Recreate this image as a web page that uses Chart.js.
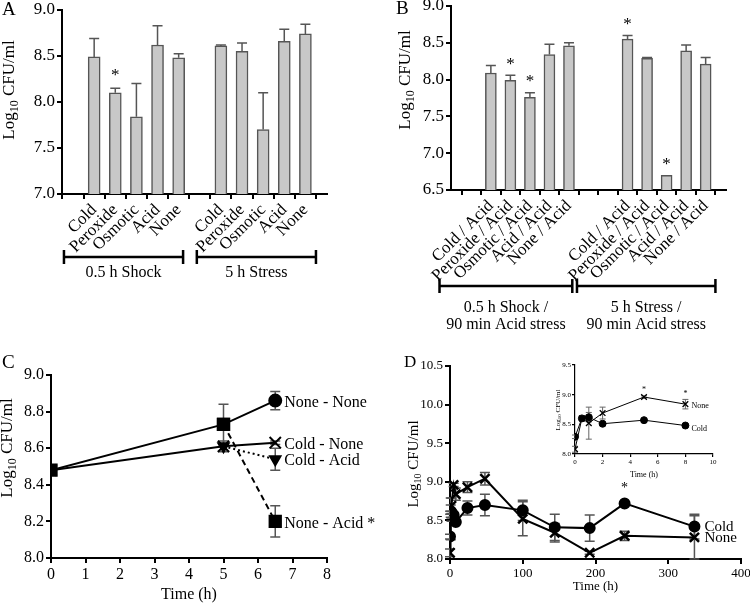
<!DOCTYPE html>
<html>
<head>
<meta charset="utf-8">
<script src="https://cdn.jsdelivr.net/npm/chart.js@4.4.0/dist/chart.umd.min.js"></script>
<style>
body { margin: 0; background: #fff; }
#wrap { position: relative; width: 750px; height: 604px; overflow: hidden; background: #fff; }
canvas { position: absolute; }
</style>
</head>
<body>
<div id="wrap">
<canvas id="cA" width="340" height="300" style="left:0;top:0"></canvas>
<canvas id="cB" width="375" height="335" style="left:375px;top:0"></canvas>
<canvas id="cC" width="375" height="264" style="left:0;top:340px"></canvas>
<canvas id="cD" width="375" height="264" style="left:375px;top:340px"></canvas>
<canvas id="cI" width="200" height="130" style="left:530px;top:350px"></canvas>
</div>
<script>
// panel A - 0.5 h shock / 5 h stress
var labelsA = ['', 'Cold', 'Peroxide', 'Osmotic', 'Acid', 'None', '', 'Cold', 'Peroxide', 'Osmotic', 'Acid', 'None'];
var valuesA = [null, 8.49, 8.10, 7.84, 8.62, 8.48, null, 8.61, 8.55, 7.70, 8.66, 8.74];
var errA = [0, 0.20, 0.05, 0.36, 0.21, 0.045, 0, 0.01, 0.09, 0.40, 0.13, 0.105];
var starsA = [2];
var groupsA = ['0.5 h Shock', '5 h Stress'];

// panel B - followed by 90 min acid stress
var labelsB = ['', 'Cold / Acid', 'Peroxide / Acid', 'Osmotic / Acid', 'Acid / Acid', 'None / Acid', '', '',
  'Cold / Acid', 'Peroxide / Acid', 'Osmotic / Acid', 'Acid / Acid', 'None / Acid'];
var valuesB = [null, 8.09, 7.99, 7.76, 8.34, 8.46, null, null, 8.55, 8.29, 6.70, 8.39, 8.21];
var errB = [0, 0.10, 0.07, 0.06, 0.14, 0.04, 0, 0, 0.05, 0.01, 0, 0.08, 0.09];
var starsB = [2, 3, 8, 10];
var groupsB = [['0.5 h Shock /', '90 min Acid stress'], ['5 h Stress /', '90 min Acid stress']];

// panel C - time course (h)
var noneNoneT = [0, 5, 6.5], noneNoneV = [8.48, 8.73, 8.86], noneNoneE = [0, 0.11, 0.05];
var noneAcidT = [5, 6.5], noneAcidV = [8.73, 8.20], noneAcidE = [0, 0.085];
var coldNoneT = [0, 5, 6.5], coldNoneV = [8.48, 8.61, 8.63], coldNoneE = [0, 0.03, 0.01];
var coldAcidT = [5, 6.5], coldAcidV = [8.61, 8.54], coldAcidE = [0, 0.06];

// panel D - long storage (h)
var timeD = [0, 0.5, 1, 2, 5, 8, 24, 48, 100, 144, 192, 240, 336];
var coldD = [8.29, 8.60, 8.62, 8.51, 8.57, 8.48, 8.66, 8.70, 8.63, 8.41, 8.40, 8.72, 8.42];
var coldErrD = [0.03, 0.02, 0.08, 0.02, 0.02, 0.02, 0.09, 0.14, 0.13, 0.17, 0.17, 0.02, 0.16];
var noneD = [8.08, 8.60, 8.52, 8.69, 8.96, 8.84, 8.93, 9.04, 8.52, 8.34, 8.08, 8.30, 8.28];
var noneErrD = [0.05, 0.02, 0.27, 0.10, 0.02, 0.08, 0.07, 0.08, 0.22, 0.12, 0.02, 0.06, 0.28];
var starTimesD = [240];
var starTimesInset = [5, 8];
var insetCount = 6; // first 8 h

var FAM = "'Liberation Serif', 'Times New Roman', serif";
Chart.defaults.font.family = FAM;
Chart.defaults.color = '#000';
Chart.defaults.animation = false;

function pts(xs, ys) {
  return xs.map(function(x, i) { return { x: x, y: ys[i] }; });
}

function fixY(w) {
  return function(s) { s.width = w; s.paddingTop = 0; s.paddingBottom = 0; };
}
function fixX(h) {
  return function(s) { s.height = h; s.paddingLeft = 0; s.paddingRight = 0; };
}

function axisStyle(size, tickLen, bw) {
  return {
    grid: { drawOnChartArea: false, drawTicks: true, tickLength: tickLen, color: '#000', lineWidth: bw },
    border: { display: true, color: '#000', width: bw }
  };
}

function yTitle(ctx, x, y, size) {
  ctx.save();
  ctx.translate(x, y);
  ctx.rotate(-Math.PI / 2);
  ctx.fillStyle = '#000';
  ctx.textBaseline = 'middle';
  ctx.textAlign = 'left';
  var big = size + 'px ' + FAM;
  var small = Math.round(size * 0.68) + 'px ' + FAM;
  ctx.font = big;
  var w1 = ctx.measureText('Log').width;
  var w3 = ctx.measureText(' CFU/ml').width;
  ctx.font = small;
  var w2 = ctx.measureText('10').width;
  var x0 = -(w1 + w2 + w3) / 2;
  ctx.font = big;
  ctx.fillText('Log', x0, 0);
  ctx.font = small;
  ctx.fillText('10', x0 + w1, size * 0.28);
  ctx.font = big;
  ctx.fillText(' CFU/ml', x0 + w1 + w2, 0);
  ctx.restore();
}

function text(ctx, s, x, y, size, align) {
  ctx.save();
  ctx.fillStyle = '#000';
  ctx.font = size + 'px ' + FAM;
  ctx.textAlign = align || 'left';
  ctx.textBaseline = 'middle';
  ctx.fillText(s, x, y);
  ctx.restore();
}

// error bars, drawn under the marks
var errorBars = {
  id: 'errorBars',
  beforeDatasetsDraw: function(chart) {
    var ctx = chart.ctx, ys = chart.scales.y;
    chart.data.datasets.forEach(function(ds, i) {
      if (!ds.errs) return;
      var meta = chart.getDatasetMeta(i);
      ctx.save();
      ctx.strokeStyle = ds.errColor || '#555';
      ctx.lineWidth = ds.errWidth || 1.5;
      meta.data.forEach(function(el, j) {
        var e = ds.errs[j], v = ds.data[j];
        var val = (v && typeof v === 'object') ? v.y : v;
        if (!e || val == null) return;
        var x = el.x;
        var yv = ys.getPixelForValue(val);
        var yt = ys.getPixelForValue(val + e);
        var yb = ds.errUp ? yv : ys.getPixelForValue(val - e);
        var c = ds.errCap || 5;
        ctx.beginPath();
        ctx.moveTo(x, yb); ctx.lineTo(x, yt);
        ctx.moveTo(x - c, yt); ctx.lineTo(x + c, yt);
        if (!ds.errUp) { ctx.moveTo(x - c, yb); ctx.lineTo(x + c, yb); }
        ctx.stroke();
      });
      ctx.restore();
    });
  }
};
Chart.register(errorBars);

function barXAxis(labels, min, max, h, size) {
  var a = axisStyle(size, 5, 2);
  return Object.assign(a, {
    type: 'linear', min: min, max: max,
    afterBuildTicks: function(s) { s.ticks = labels.map(function(_, i) { return { value: i }; }); },
    afterFit: fixX(h),
    ticks: {
      autoSkip: false, maxRotation: 45, minRotation: 45, padding: 1,
      font: { size: size },
      callback: function(v, i) { return labels[i]; }
    }
  });
}

function bracket(ctx, x1, x2, y) {
  ctx.save();
  ctx.strokeStyle = '#000';
  ctx.lineWidth = 2.5;
  ctx.beginPath();
  ctx.moveTo(x1, y); ctx.lineTo(x2, y);
  ctx.moveTo(x1, y - 7); ctx.lineTo(x1, y + 7);
  ctx.moveTo(x2, y - 7); ctx.lineTo(x2, y + 7);
  ctx.stroke();
  ctx.restore();
}

// ---------- A ----------
new Chart(document.getElementById('cA'), {
  type: 'bar',
  data: {
    datasets: [{
      data: pts(labelsA.map(function(_, i) { return i; }), valuesA),
      errs: errA, errUp: true, errCap: 5,
      backgroundColor: '#c8c8c8', borderColor: '#555', borderWidth: 1.5,
      barThickness: 12
    }]
  },
  options: {
    responsive: false,
    layout: { padding: { left: 0, top: 10, right: 13, bottom: 0 } },
    plugins: { legend: { display: false }, tooltip: { enabled: false } },
    scales: {
      x: barXAxis(labelsA, 0, 11.5, 106, 17),
      y: Object.assign(axisStyle(17, 5, 2), {
        min: 7, max: 9, afterFit: fixY(62),
        ticks: { stepSize: 0.5, font: { size: 17 }, padding: 2, callback: function(v) { return v.toFixed(1); } }
      })
    }
  },
  plugins: [{
    id: 'decorA',
    afterDraw: function(chart) {
      var ctx = chart.ctx, xs = chart.scales.x, ys = chart.scales.y;
      text(ctx, 'A', 2, 10, 19);
      yTitle(ctx, 10, 90, 17);
      starsA.forEach(function(i) {
        text(ctx, '*', xs.getPixelForValue(i), ys.getPixelForValue(valuesA[i] + errA[i]) - 13, 17, 'center');
      });
      var spans = [[-0.43, 5.21], [5.86, 11.5]];
      spans.forEach(function(sp, g) {
        var x1 = xs.getPixelForValue(sp[0]), x2 = xs.getPixelForValue(sp[1]);
        bracket(ctx, x1, x2, 257);
        text(ctx, groupsA[g], (x1 + x2) / 2, 273, 16, 'center');
      });
    }
  }]
});

// ---------- B ----------
new Chart(document.getElementById('cB'), {
  type: 'bar',
  data: {
    datasets: [{
      data: pts(labelsB.map(function(_, i) { return i; }), valuesB),
      errs: errB, errUp: true, errCap: 5,
      backgroundColor: '#c8c8c8', borderColor: '#555', borderWidth: 1.5,
      barThickness: 11
    }]
  },
  options: {
    responsive: false,
    layout: { padding: { left: 0, top: 6, right: 24, bottom: 0 } },
    plugins: { legend: { display: false }, tooltip: { enabled: false } },
    scales: {
      x: barXAxis(labelsB, -0.5, 12.5, 145, 17),
      y: Object.assign(axisStyle(17, 5, 2), {
        min: 6.5, max: 9, afterFit: fixY(76),
        ticks: { stepSize: 0.5, font: { size: 17 }, padding: 2, callback: function(v) { return v.toFixed(1); } }
      })
    }
  },
  plugins: [{
    id: 'decorB',
    afterDraw: function(chart) {
      var ctx = chart.ctx, xs = chart.scales.x, ys = chart.scales.y;
      text(ctx, 'B', 21, 9, 19);
      yTitle(ctx, 31, 80, 17);
      starsB.forEach(function(i) {
        text(ctx, '*', xs.getPixelForValue(i), ys.getPixelForValue(valuesB[i] + errB[i]) - 11, 17, 'center');
      });
      var spans = [[-1.63, 5.17], [5.41, 12.5]];
      spans.forEach(function(sp, g) {
        var x1 = xs.getPixelForValue(sp[0]), x2 = xs.getPixelForValue(sp[1]);
        bracket(ctx, x1, x2, 286);
        text(ctx, groupsB[g][0], (x1 + x2) / 2, 308, 16, 'center');
        text(ctx, groupsB[g][1], (x1 + x2) / 2, 325, 16, 'center');
      });
    }
  }]
});

// ---------- C ----------
var lineC = { borderColor: '#000', backgroundColor: '#000', pointBorderColor: '#000', pointBackgroundColor: '#000',
  borderWidth: 2, fill: false, errColor: '#555', errCap: 5 };
new Chart(document.getElementById('cC'), {
  type: 'line',
  data: {
    datasets: [
      Object.assign({}, lineC, { label: 'Cold - Acid', data: pts(coldAcidT, coldAcidV), errs: coldAcidE,
        borderDash: [2, 3], pointStyle: 'triangle', pointRotation: 180, pointRadius: 6 }),
      Object.assign({}, lineC, { label: 'Cold - None', data: pts(coldNoneT, coldNoneV), errs: coldNoneE,
        pointStyle: 'crossRot', pointRadius: 8, pointBorderWidth: 2 }),
      Object.assign({}, lineC, { label: 'None - Acid', data: pts(noneAcidT, noneAcidV), errs: noneAcidE,
        borderDash: [6, 4], pointStyle: 'rect', pointRadius: 8 }),
      Object.assign({}, lineC, { label: 'None - None', data: pts(noneNoneT, noneNoneV), errs: noneNoneE,
        pointStyle: ['rect', 'rect', 'circle'], pointRadius: [8, 8, 6] })
    ]
  },
  options: {
    responsive: false,
    layout: { padding: { left: 0, top: 35, right: 48, bottom: 0 } },
    plugins: { legend: { display: false }, tooltip: { enabled: false } },
    scales: {
      x: Object.assign(axisStyle(16, 5, 2), {
        type: 'linear', min: 0, max: 8, afterFit: fixX(46),
        ticks: { stepSize: 1, font: { size: 16 }, padding: 2 },
        title: { display: true, text: 'Time (h)', font: { size: 16 }, padding: { top: 0, bottom: 0 } }
      }),
      y: Object.assign(axisStyle(16, 5, 2), {
        min: 8, max: 9, afterFit: fixY(51),
        ticks: { stepSize: 0.2, font: { size: 16 }, padding: 2, callback: function(v) { return v.toFixed(1); } }
      })
    }
  },
  plugins: [{
    id: 'decorC',
    afterDraw: function(chart) {
      var ctx = chart.ctx;
      text(ctx, 'C', 2, 23, 19);
      yTitle(ctx, 8, 108, 17);
      chart.data.datasets.forEach(function(ds, i) {
        var meta = chart.getDatasetMeta(i);
        var last = meta.data[meta.data.length - 1];
        var s = ds.label === 'None - Acid' ? ds.label + ' *' : ds.label;
        text(ctx, s, last.x + 9, last.y + 2, 16);
      });
    }
  }]
});

// ---------- D ----------
var lineD = { borderColor: '#000', backgroundColor: '#000', pointBorderColor: '#000', pointBackgroundColor: '#000',
  borderWidth: 2, fill: false, errColor: '#555', errCap: 5 };
new Chart(document.getElementById('cD'), {
  type: 'line',
  data: {
    datasets: [
      Object.assign({}, lineD, { label: 'None', data: pts(timeD, noneD), errs: noneErrD,
        pointStyle: 'crossRot', pointRadius: 6.5, pointBorderWidth: 2.5 }),
      Object.assign({}, lineD, { label: 'Cold', data: pts(timeD, coldD), errs: coldErrD,
        pointStyle: 'circle', pointRadius: 5 })
    ]
  },
  options: {
    responsive: false,
    layout: { padding: { left: 0, top: 26, right: 8, bottom: 0 } },
    plugins: { legend: { display: false }, tooltip: { enabled: false } },
    scales: {
      x: Object.assign(axisStyle(13, 5, 2), {
        type: 'linear', min: 0, max: 400, afterFit: fixX(45),
        ticks: { stepSize: 100, font: { size: 13 }, padding: 2 },
        title: { display: true, text: 'Time (h)', font: { size: 13 }, padding: { top: 0, bottom: 10 } }
      }),
      y: Object.assign(axisStyle(13, 5, 2), {
        min: 8, max: 10.5, afterFit: fixY(75),
        ticks: { stepSize: 0.5, font: { size: 13 }, padding: 2, callback: function(v) { return v.toFixed(1); } }
      })
    }
  },
  plugins: [{
    id: 'decorD',
    afterDraw: function(chart) {
      var ctx = chart.ctx, xs = chart.scales.x, ys = chart.scales.y;
      text(ctx, 'D', 29, 23, 17);
      yTitle(ctx, 39, 124, 15);
      starTimesD.forEach(function(t) {
        var j = timeD.indexOf(t);
        text(ctx, '*', xs.getPixelForValue(t), ys.getPixelForValue(coldD[j]) - 15, 14, 'center');
      });
      var n = timeD.length - 1;
      text(ctx, 'Cold', xs.getPixelForValue(timeD[n]) + 10, ys.getPixelForValue(coldD[n]), 15);
      text(ctx, 'None', xs.getPixelForValue(timeD[n]) + 10, ys.getPixelForValue(noneD[n]) + 1, 15);
    }
  }]
});

// ---------- D inset (first 8 h) ----------
var tI = timeD.slice(0, insetCount);
var lineI = { borderColor: '#000', backgroundColor: '#000', pointBorderColor: '#000', pointBackgroundColor: '#000',
  borderWidth: 1, fill: false, errColor: '#666', errCap: 3, errWidth: 1 };
new Chart(document.getElementById('cI'), {
  type: 'line',
  data: {
    datasets: [
      Object.assign({}, lineI, { label: 'None', data: pts(tI, noneD.slice(0, insetCount)), errs: noneErrD.slice(0, insetCount),
        pointStyle: 'crossRot', pointRadius: 4, pointBorderWidth: 1.3 }),
      Object.assign({}, lineI, { label: 'Cold', data: pts(tI, coldD.slice(0, insetCount)), errs: coldErrD.slice(0, insetCount),
        pointStyle: 'circle', pointRadius: 3.5 })
    ]
  },
  options: {
    responsive: false,
    layout: { padding: { left: 0, top: 15, right: 17, bottom: 0 } },
    plugins: { legend: { display: false }, tooltip: { enabled: false } },
    scales: {
      x: Object.assign(axisStyle(7, 3, 1.2), {
        type: 'linear', min: 0, max: 10, afterFit: fixX(26),
        ticks: { stepSize: 2, font: { size: 7 }, padding: 1 },
        title: { display: true, text: 'Time (h)', font: { size: 8 }, padding: { top: 0, bottom: 0 } }
      }),
      y: Object.assign(axisStyle(7, 3, 1.2), {
        min: 8, max: 9.5, afterFit: fixY(45),
        ticks: { stepSize: 0.5, font: { size: 7 }, padding: 1, callback: function(v) { return v.toFixed(1); } }
      })
    }
  },
  plugins: [{
    id: 'decorI',
    afterDraw: function(chart) {
      var ctx = chart.ctx, xs = chart.scales.x, ys = chart.scales.y;
      yTitle(ctx, 28, 60, 7);
      starTimesInset.forEach(function(t) {
        var j = timeD.indexOf(t);
        text(ctx, '*', xs.getPixelForValue(t), ys.getPixelForValue(noneD[j] + noneErrD[j]) - 6, 8, 'center');
      });
      var n = insetCount - 1;
      text(ctx, 'None', xs.getPixelForValue(tI[n]) + 6, ys.getPixelForValue(noneD[n]) + 2, 8);
      text(ctx, 'Cold', xs.getPixelForValue(tI[n]) + 6, ys.getPixelForValue(coldD[n]) + 3, 8);
    }
  }]
});
</script>
</body>
</html>
